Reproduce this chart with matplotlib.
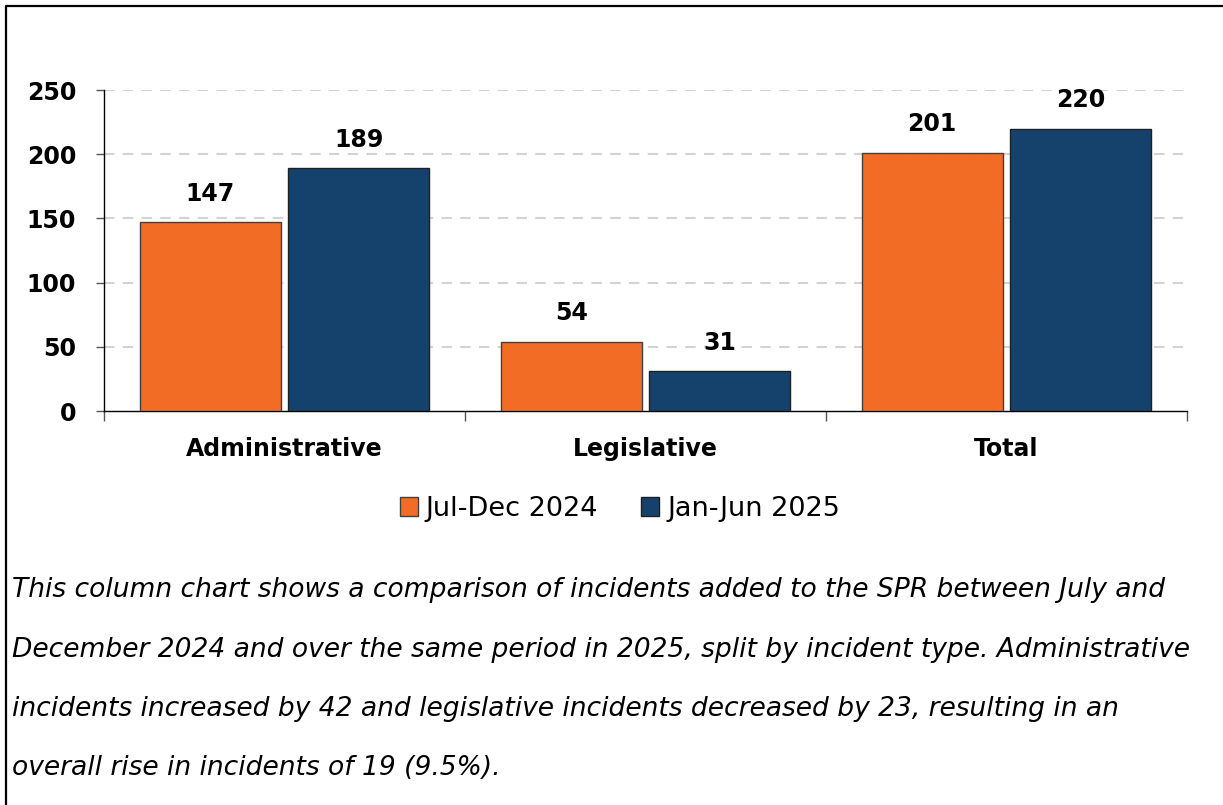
import matplotlib.pyplot as plt
from matplotlib.lines import Line2D
import numpy as np

categories = ['Administrative', 'Legislative', 'Total']
jul_dec_2024 = [147, 54, 201]
jan_jun_2025 = [189, 31, 220]
series_names = ['Jul-Dec 2024', 'Jan-Jun 2025']
yticks = [0, 50, 100, 150, 200, 250]
caption = [
    "This column chart shows a comparison of incidents added to the SPR between July and",
    "December 2024 and over the same period in 2025, split by incident type. Administrative",
    "incidents increased by 42 and legislative incidents decreased by 23, resulting in an",
    "overall rise in incidents of 19 (9.5%).",
]

orange = '#F36C25'
blue = '#14426C'

plt.rcParams['font.family'] = ['DejaVu Sans']

fig = plt.figure(figsize=(12.23, 8.05), dpi=100)
ax = fig.add_axes([104 / 1223, 1 - 411 / 805, (1187 - 104) / 1223, (411 - 90) / 805])

x = np.arange(len(categories))
w = 0.39
off = 0.206
b1 = ax.bar(x - off, jul_dec_2024, w, color=orange, edgecolor='#404040', linewidth=1, zorder=3)
b2 = ax.bar(x + off, jan_jun_2025, w, color=blue, edgecolor='#202020', linewidth=1, zorder=3)

for bars, vals in ((b1, jul_dec_2024), (b2, jan_jun_2025)):
    for r, v in zip(bars, vals):
        ax.annotate(str(v), (r.get_x() + r.get_width() / 2, v), xytext=(0, 12),
                    textcoords='offset points', ha='center', va='bottom',
                    fontsize=17, fontweight='bold')

ax.set_xlim(-0.5, 2.5)
ax.set_ylim(0, 250)
ax.set_yticks(yticks)
ax.set_yticklabels([str(t) for t in yticks], fontsize=17, fontweight='bold')
ax.tick_params(axis='y', length=6, width=1, color='#555555', pad=14)

ax.set_xticks([-0.5, 0.5, 1.5, 2.5])
ax.set_xticklabels([])
ax.tick_params(axis='x', which='major', length=7, width=1, color='#555555')
ax.set_xticks(x, minor=True)
ax.set_xticklabels(categories, minor=True, fontsize=17, fontweight='bold')
ax.tick_params(axis='x', which='minor', length=0, pad=19)

for y in yticks[1:]:
    ax.axhline(y, color='#D3D3D3', linestyle=(0, (5, 4)), linewidth=1.5, zorder=1)

ax.spines['top'].set_visible(False)
ax.spines['right'].set_visible(False)
ax.spines['left'].set_linewidth(1)
ax.spines['bottom'].set_linewidth(1)

handles = [plt.Rectangle((0, 0), 1, 1, facecolor=orange, edgecolor='#404040'),
           plt.Rectangle((0, 0), 1, 1, facecolor=blue, edgecolor='#202020')]
fig.legend(handles, series_names, loc='center', bbox_to_anchor=(620 / 1223, 1 - 509 / 805),
           ncol=2, frameon=False, fontsize=19.5,
           handlelength=0.65, handleheight=0.65, handletextpad=0.3, columnspacing=1.6)

line_y = [590, 650, 709, 768]
for txt, yy in zip(caption, line_y):
    fig.text(12 / 1223, 1 - yy / 805, txt, fontsize=19.1, fontstyle='italic',
             va='center', ha='left')

# outer border (left and top only)
bx = 5.5 / 1223
by = 1 - 6.5 / 805
fig.add_artist(Line2D([bx, bx, 1.02], [-0.02, by, by], color='black', linewidth=1.6,
                      transform=fig.transFigure))

fig.savefig('out.png', dpi=100)
